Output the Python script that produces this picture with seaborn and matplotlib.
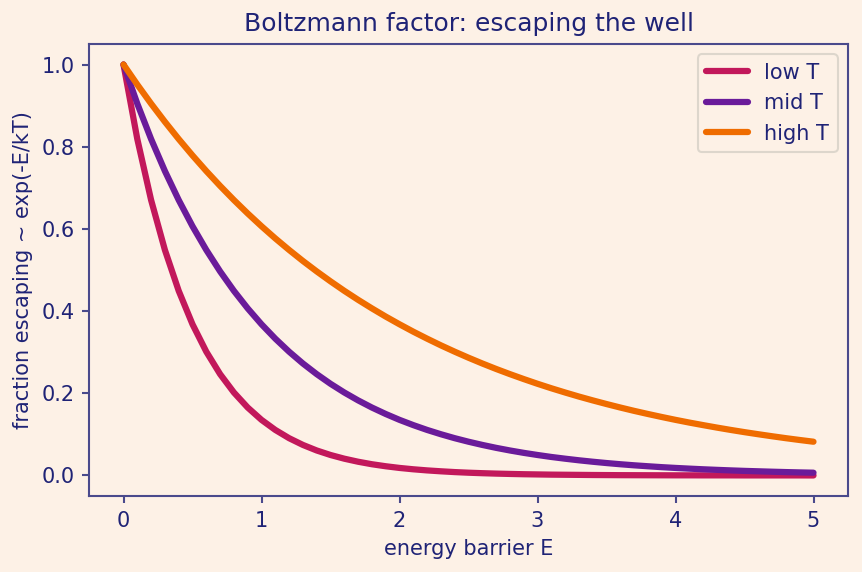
import matplotlib.pyplot as plt
import pandas as pd
import seaborn as sns

# energy barrier grid (0 to 5, step 0.1)
energy = [0.0, 0.1, 0.2, 0.3, 0.4, 0.5, 0.6, 0.7, 0.8, 0.9,
          1.0, 1.1, 1.2, 1.3, 1.4, 1.5, 1.6, 1.7, 1.8, 1.9,
          2.0, 2.1, 2.2, 2.3, 2.4, 2.5, 2.6, 2.7, 2.8, 2.9,
          3.0, 3.1, 3.2, 3.3, 3.4, 3.5, 3.6, 3.7, 3.8, 3.9,
          4.0, 4.1, 4.2, 4.3, 4.4, 4.5, 4.6, 4.7, 4.8, 4.9, 5.0]

low_t = [1.0, 0.8187, 0.6703, 0.5488, 0.4493, 0.3679, 0.3012, 0.2466, 0.2019, 0.1653,
         0.1353, 0.1108, 0.0907, 0.0743, 0.0608, 0.0498, 0.0408, 0.0334, 0.0273, 0.0224,
         0.0183, 0.0150, 0.0123, 0.0101, 0.0082, 0.0067, 0.0055, 0.0045, 0.0037, 0.0030,
         0.0025, 0.0020, 0.0017, 0.0014, 0.0011, 0.0009, 0.0007, 0.0006, 0.0005, 0.0004,
         0.0003, 0.0003, 0.0002, 0.0002, 0.0002, 0.0001, 0.0001, 0.0001, 0.0001, 0.0001, 0.0]
mid_t = [1.0, 0.9048, 0.8187, 0.7408, 0.6703, 0.6065, 0.5488, 0.4966, 0.4493, 0.4066,
         0.3679, 0.3329, 0.3012, 0.2725, 0.2466, 0.2231, 0.2019, 0.1827, 0.1653, 0.1496,
         0.1353, 0.1225, 0.1108, 0.1003, 0.0907, 0.0821, 0.0743, 0.0672, 0.0608, 0.0550,
         0.0498, 0.0450, 0.0408, 0.0369, 0.0334, 0.0302, 0.0273, 0.0247, 0.0224, 0.0202,
         0.0183, 0.0166, 0.0150, 0.0136, 0.0123, 0.0111, 0.0101, 0.0091, 0.0082, 0.0074, 0.0067]
high_t = [1.0, 0.9512, 0.9048, 0.8607, 0.8187, 0.7788, 0.7408, 0.7047, 0.6703, 0.6376,
          0.6065, 0.5769, 0.5488, 0.5220, 0.4966, 0.4724, 0.4493, 0.4274, 0.4066, 0.3867,
          0.3679, 0.3499, 0.3329, 0.3166, 0.3012, 0.2865, 0.2725, 0.2592, 0.2466, 0.2346,
          0.2231, 0.2122, 0.2019, 0.1920, 0.1827, 0.1738, 0.1653, 0.1572, 0.1496, 0.1423,
          0.1353, 0.1287, 0.1225, 0.1165, 0.1108, 0.1054, 0.1003, 0.0954, 0.0907, 0.0863, 0.0821]

series_names = ['low T', 'mid T', 'high T']
colors = ['#c2185b', '#6a1b9a', '#ef6c00']

bg = '#fdf1e6'
ink = '#1f2376'
spine = '#4a4a8c'

sns.set_style('ticks', {
    'axes.facecolor': bg,
    'figure.facecolor': bg,
    'axes.edgecolor': spine,
    'xtick.color': spine,
    'ytick.color': spine,
    'axes.labelcolor': ink,
    'text.color': ink,
})
plt.rcParams['font.family'] = ['DejaVu Sans']
plt.rcParams['xtick.labelcolor'] = ink
plt.rcParams['ytick.labelcolor'] = ink
plt.rcParams['axes.linewidth'] = 1.0

df = pd.DataFrame({
    'E': energy * 3,
    'frac': low_t + mid_t + high_t,
    'series': [n for n in series_names for _ in energy],
})

fig, ax = plt.subplots(figsize=(862 / 150, 572 / 150), dpi=150)
sns.lineplot(data=df, x='E', y='frac', hue='series', hue_order=series_names,
             palette=colors, linewidth=3, ax=ax)

ax.set_title('Boltzmann factor: escaping the well', fontsize=12, color=ink)
ax.set_xlabel('energy barrier E', fontsize=10)
ax.set_ylabel('fraction escaping ~ exp(-E/kT)', fontsize=10)
ax.tick_params(labelsize=10, width=1.0)
ax.set_yticks([0.0, 0.2, 0.4, 0.6, 0.8, 1.0])

leg = ax.legend(loc='upper right', fontsize=10, facecolor=bg, edgecolor='#ddd6cc',
                framealpha=1)
leg.set_title(None)
for t in leg.get_texts():
    t.set_color(ink)

fig.subplots_adjust(left=89 / 862, right=848 / 862, top=1 - 44 / 572, bottom=1 - 496 / 572)
fig.savefig('out.png', facecolor=bg)
